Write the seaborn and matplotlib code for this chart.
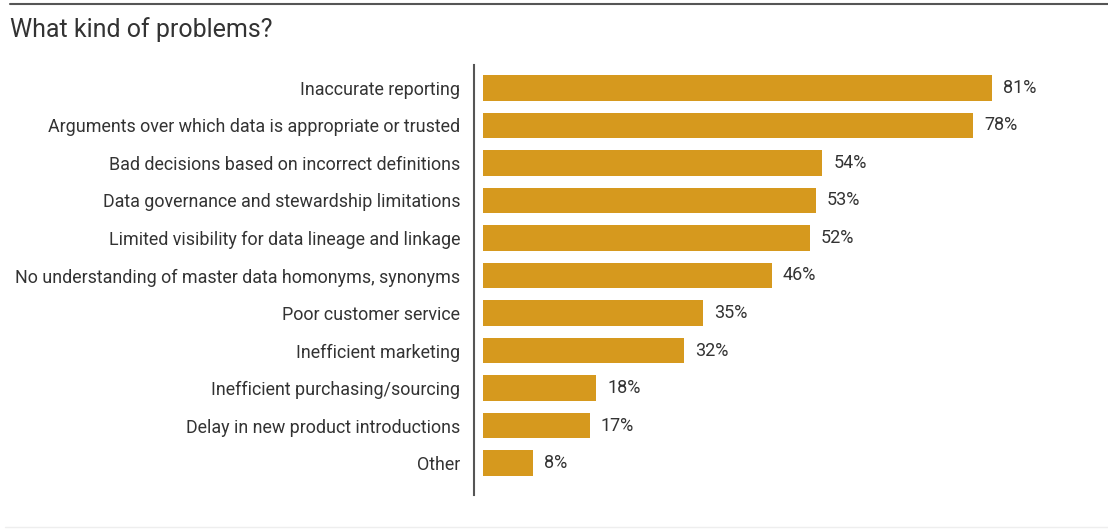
import matplotlib
matplotlib.use("Agg")
import matplotlib.pyplot as plt
import seaborn as sns
import pandas as pd
from matplotlib.lines import Line2D

categories = [
    "Inaccurate reporting",
    "Arguments over which data is appropriate or trusted",
    "Bad decisions based on incorrect definitions",
    "Data governance and stewardship limitations",
    "Limited visibility for data lineage and linkage",
    "No understanding of master data homonyms, synonyms",
    "Poor customer service",
    "Inefficient marketing",
    "Inefficient purchasing/sourcing",
    "Delay in new product introductions",
    "Other",
]
values = [81, 78, 54, 53, 52, 46, 35, 32, 18, 17, 8]
value_labels = [f"{v}%" for v in values]

df = pd.DataFrame({"category": categories, "value": values})

sns.set_theme(style="white")
plt.rcParams['font.family'] = ['Roboto', 'DejaVu Sans']

W, H = 1108, 529
fig = plt.figure(figsize=(W / 100, H / 100), dpi=100)
ax = fig.add_axes([474 / W, 1 - 495 / H, (1100 - 474) / W, (495 - 65) / H])

bar_color = "#D6991E"
text_color = "#333333"
sns.barplot(data=df, y="category", x="value", orient="h", color=bar_color,
            width=0.69, saturation=1, ax=ax, edgecolor="none")

ax.set_xlim(-1.43, 98.2)
ax.set_ylim(10.853, -0.613)
ax.set_xlabel("")
ax.set_ylabel("")
ax.set_xticks([])
for s in ["top", "right", "bottom"]:
    ax.spines[s].set_visible(False)
ax.spines["left"].set_color("#555555")
ax.spines["left"].set_linewidth(1.5)
ax.tick_params(axis="y", length=0, pad=10, labelsize=12.9, labelcolor=text_color)

for i, (v, lab) in enumerate(zip(values, value_labels)):
    ax.text(v + 1.75, i, lab, va="center", ha="left", fontsize=13, color=text_color)

fig.text(10 / W, 1 - 30 / H, "What kind of problems?", fontsize=18, color=text_color,
         ha="left", va="center")
fig.add_artist(Line2D([10 / W, 1.0], [1 - 4 / H, 1 - 4 / H], color="#555555", linewidth=1.5))
fig.add_artist(Line2D([5 / W, 1.0], [1 - 527 / H, 1 - 527 / H], color="#eeeeee", linewidth=1))

fig.savefig("out.png", dpi=100)
